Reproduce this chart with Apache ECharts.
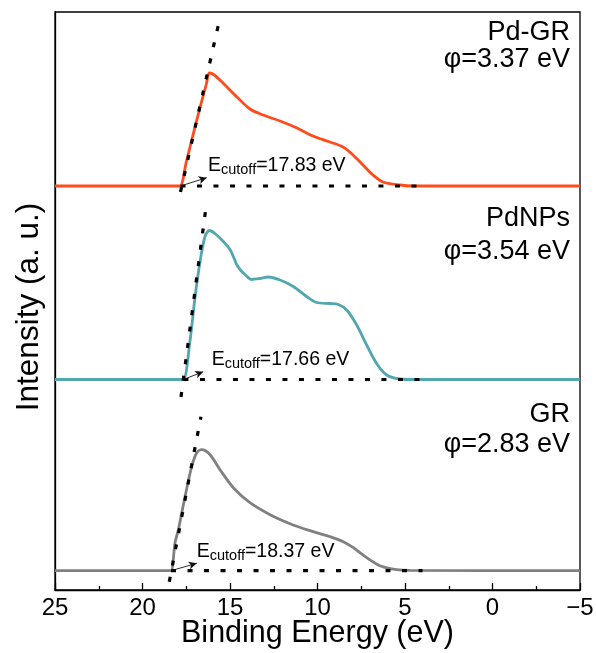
<!DOCTYPE html>
<html>
<head>
<meta charset="utf-8">
<script src="https://cdn.jsdelivr.net/npm/echarts@6/dist/echarts.min.js"></script>
<style>
  html, body { margin: 0; padding: 0; background: #fff; }
  #chart { width: 596px; height: 653px; }
</style>
</head>
<body>
<div id="chart"></div>
<script>
// UPS secondary-electron cutoff spectra (He I, 21.2 eV), stacked with vertical offsets.
const HE_I = 21.2;

const sampleNames = ['Pd-GR', 'PdNPs', 'GR'];
const sampleColors = ['#FF4B1C', '#52A6B0', '#808080'];
const cutoffs = [17.83, 17.66, 18.37];          // eV
const offsets = [4.04, 2.105, 0.193];            // a.u. stacking offsets

// Binding energy (eV) and intensity (a.u., above own baseline)
const energyPdGR = [25, 18.2, 17.86, 17.5, 17.0, 16.6, 16.35, 16.18, 15.9, 15.4, 14.6, 13.86, 13.11, 12.14, 11.17, 10.26, 9.29, 8.54, 7.97, 7.4, 6.83, 6.26, 5.29, 4.54, -5];
const intensityPdGR = [0, 0, 0, 0.24, 0.59, 0.86, 1.02, 1.13, 1.11, 1.03, 0.89, 0.77, 0.71, 0.65, 0.58, 0.50, 0.44, 0.39, 0.31, 0.21, 0.11, 0.04, 0.01, 0, 0];

const energyPdNPs = [25, 18.0, 17.67, 17.29, 17.0, 16.71, 16.43, 16.18, 15.86, 15.38, 15.0, 14.81, 14.62, 14.38, 14.14, 13.76, 13.29, 12.81, 12.14, 11.38, 10.62, 10.05, 9.29, 8.81, 8.33, 7.76, 7.19, 6.62, 6.05, 5.29, 4.5, -5];
const intensityPdNPs = [0, 0, 0, 0.38, 0.82, 1.18, 1.43, 1.49, 1.46, 1.38, 1.30, 1.23, 1.15, 1.09, 1.05, 1.0, 1.01, 1.025, 0.995, 0.93, 0.83, 0.77, 0.76, 0.75, 0.695, 0.545, 0.345, 0.16, 0.045, 0.005, 0, 0];

const energyGR = [25, 18.6, 18.37, 18.14, 17.95, 17.57, 17.19, 16.9, 16.62, 16.14, 15.57, 14.81, 13.86, 12.71, 11.57, 10.43, 9.29, 8.53, 7.95, 7.19, 6.43, 5.47, 4.71, -5];
const intensityGR = [0, 0, 0, 0.28, 0.41, 0.74, 1.04, 1.18, 1.21, 1.16, 1.01, 0.83, 0.68, 0.56, 0.47, 0.40, 0.34, 0.29, 0.23, 0.13, 0.05, 0.01, 0.003, 0];

// Linear extrapolation of the leading edge: [energy, intensity] end points
const tangentPdGR = [[17.83, -0.06], [15.60, 1.66]];
const tangentPdNPs = [[17.80, -0.175], [16.37, 1.725]];
const tangentGR = [[18.47, -0.11], [16.66, 1.54]];

// Baseline extrapolation ends at this energy
const baselineEnd = 4.0;

// Arrow tips and cutoff-label anchors [energy, intensity]
const arrowTips = [[16.33, 0.083], [16.53, 0.078], [16.90, 0.074]];
const labelAnchors = [[16.26, 0.205], [16.05, 0.20], [16.90, 0.19]];

const xTicks = [25, 20, 15, 10, 5, 0, -5];

const energies = [energyPdGR, energyPdNPs, energyGR];
const intensities = [intensityPdGR, intensityPdNPs, intensityGR];
const tangents = [tangentPdGR, tangentPdNPs, tangentGR];

const FONT = "'Liberation Sans', Arial, sans-serif";
const DOT = [5, 11.5];

const chart = echarts.init(document.getElementById('chart'), null, { renderer: 'canvas' });

const series = [];
sampleNames.forEach((name, k) => {
  series.push({
    name: name,
    type: 'line',
    data: energies[k].map((e, i) => [e, intensities[k][i] + offsets[k]]),
    showSymbol: false,
    smooth: 0.3,
    lineStyle: { color: sampleColors[k], width: 2.8 },
    z: 2,
    silent: true
  });
});
sampleNames.forEach((name, k) => {
  series.push({
    name: name + ' tangent',
    type: 'line',
    data: tangents[k].map(p => [p[0], p[1] + offsets[k]]),
    showSymbol: false,
    lineStyle: { color: '#000', width: 3.2, type: DOT },
    z: 3,
    silent: true
  });
  series.push({
    name: name + ' baseline',
    type: 'line',
    data: [[cutoffs[k], offsets[k]], [baselineEnd, offsets[k]]],
    showSymbol: false,
    lineStyle: { color: '#000', width: 3.2, type: DOT },
    z: 3,
    silent: true,
    markLine: {
      silent: true,
      symbol: ['none', 'arrow'],
      symbolSize: [6, 8],
      label: { show: false },
      lineStyle: { color: '#111', width: 0.9, type: 'solid' },
      data: [[
        { coord: [cutoffs[k], offsets[k]] },
        { coord: [arrowTips[k][0], arrowTips[k][1] + offsets[k]] }
      ]]
    }
  });
});

chart.setOption({
  animation: false,
  backgroundColor: '#fff',
  grid: {
    left: 55, right: 16, top: 12, bottom: 63,
    outerBoundsMode: 'none',
    containLabel: false,
    show: true, borderColor: '#000', borderWidth: 1.3
  },
  xAxis: {
    type: 'value',
    inverse: true,
    min: -5, max: 25, interval: 5,
    name: 'Binding Energy (eV)',
    nameLocation: 'middle',
    nameGap: 28,
    nameMoveOverlap: false,
    nameTextStyle: { fontSize: 30.5, color: '#000', fontFamily: FONT },
    axisLine: { show: true, onZero: false, lineStyle: { color: '#000', width: 1.3 } },
    axisTick: { show: true, inside: true, length: 7, lineStyle: { color: '#000', width: 1.3 } },
    minorTick: { show: true, splitNumber: 2, length: 4, lineStyle: { color: '#000', width: 1.3 } },
    axisLabel: {
      fontSize: 24, color: '#000', fontFamily: FONT, margin: 6,
      formatter: v => xTicks.includes(v) ? String(v).replace('-', '\u2212') : ''
    },
    splitLine: { show: false }
  },
  yAxis: {
    type: 'value',
    min: 0, max: 5.78,
    name: 'Intensity (a. u.)',
    nameLocation: 'middle',
    nameGap: 10,
    nameMoveOverlap: false,
    nameTextStyle: { fontSize: 31.5, color: '#000', fontFamily: FONT, padding: [0, 12, 0, 0] },
    axisLine: { show: true, onZero: false, lineStyle: { color: '#000', width: 1.3 } },
    axisTick: { show: false },
    axisLabel: { show: false },
    splitLine: { show: false }
  },
  series: series
});

// Text annotations anchored to data coordinates
const graphics = [];
sampleNames.forEach((name, k) => {
  const a = labelAnchors[k];
  const p = chart.convertToPixel({ gridIndex: 0 }, [a[0], a[1] + offsets[k]]);
  graphics.push({
    type: 'text',
    x: p[0], y: p[1],
    silent: true,
    style: {
      text: '{m|E}{s|cutoff}{m|=' + cutoffs[k].toFixed(2) + ' eV}',
      align: 'left',
      verticalAlign: 'middle',
      rich: {
        m: { fontSize: 19.5, fontFamily: FONT, fill: '#000', lineHeight: 24, verticalAlign: 'middle' },
        s: { fontSize: 14.5, fontFamily: FONT, fill: '#000', lineHeight: 14, verticalAlign: 'bottom' }
      }
    }
  });
});

// Sample name and work function, right-aligned inside the frame
const titleY = [[33, 60], [218.7, 251.7], [415, 445]];
sampleNames.forEach((name, k) => {
  const phi = (HE_I - cutoffs[k]).toFixed(2);
  graphics.push({
    type: 'text', x: 570, y: titleY[k][0], silent: true,
    style: { text: name, align: 'right', verticalAlign: 'middle', font: '27px ' + FONT, fill: '#000' }
  });
  graphics.push({
    type: 'text', x: 570, y: titleY[k][1], silent: true,
    style: { text: '\u03c6=' + phi + ' eV', align: 'right', verticalAlign: 'middle', font: '27px ' + FONT, fill: '#000' }
  });
});

chart.setOption({ graphic: graphics });
</script>
</body>
</html>
